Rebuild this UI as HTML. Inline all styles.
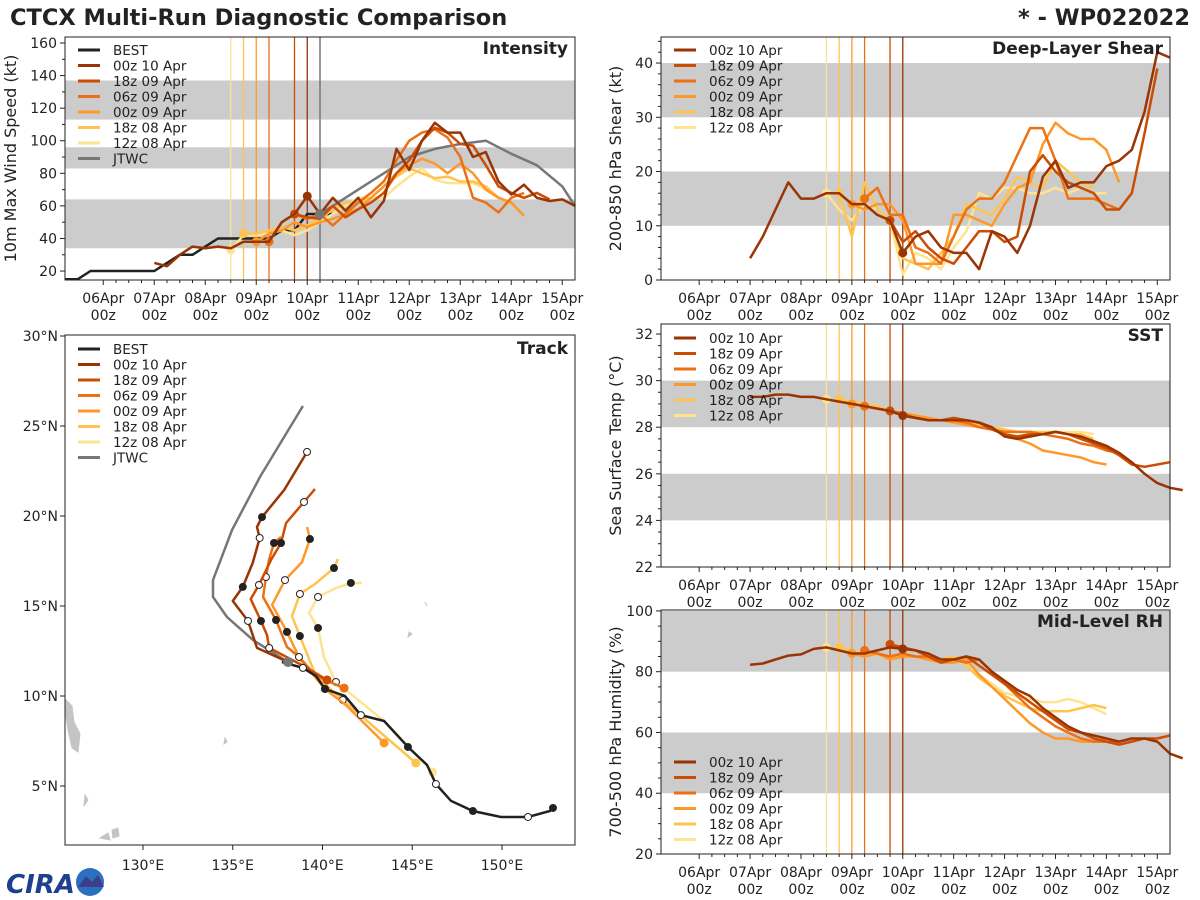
<!DOCTYPE html>
<html><head><meta charset="utf-8"><title>CTCX Multi-Run Diagnostic Comparison</title>
<style>
html,body{margin:0;padding:0;background:#fff;}
svg{display:block;font-family:"DejaVu Sans","Liberation Sans",sans-serif;}
</style></head>
<body>
<svg id="fig" width="1200" height="900" viewBox="0 0 1200 900" xmlns="http://www.w3.org/2000/svg">
<text x="10" y="25" font-size="22.5" font-weight="bold" fill="#222">CTCX Multi-Run Diagnostic Comparison</text>
<text x="1190" y="25" font-size="22.5" font-weight="bold" fill="#222" text-anchor="end">* - WP022022</text>
<g>
<text x="6" y="893" font-size="26" font-weight="bold" fill="#1f3f8f" font-style="italic">CIRA</text>
<circle cx="90" cy="882" r="14" fill="#2a6fc0"/>
<path d="M78 887 L86 876 L92 882 L98 875 L104 887 Z" fill="#3d3d8a"/>
</g>
</svg>
<script>
// ---------------- DATA ----------------
const runNames = ["00z 10 Apr","18z 09 Apr","06z 09 Apr","00z 09 Apr","18z 08 Apr","12z 08 Apr"];
const runColors = ["#993404","#cc4c02","#ec7014","#fe9929","#fec44f","#fee391"];
const runStart = [4.0,3.75,3.25,3.0,2.75,2.5]; // days since 06Apr00z
const dayTickLabels = ["06Apr","07Apr","08Apr","09Apr","10Apr","11Apr","12Apr","13Apr","14Apr","15Apr"];

// Intensity (kt); series start times and values (6-hourly)
const bestIntStart = -0.75;
const bestInt = [15,15,20,20,20,20,20,20,25,30,30,35,40,40,40,40,40,45,45,55,55,55];
const jtwcIntT = [4.25,4.5,5,5.5,6,6.5,7,7.5,8,8.5,9,9.25];
const jtwcInt = [55,60,70,80,90,95,98,100,92,85,72,60];
const intStart = [1.0,3.75,3.25,3.0,2.75,2.5];
const int00z10 = [25,23,30,35,34,35,34,38,38,38,50,55,66,55,65,57,65,53,63,95,82,100,111,105,105,90,93,75,67,73,65,63,64,60];
const int18z09 = [55,53,52,60,53,58,62,68,80,88,100,108,105,98,97,85,72,68,65,68,64];
const int06z09 = [38,50,55,52,55,48,55,62,68,75,88,100,105,107,102,90,65,62,56,65,68];
const int00z09 = [38,43,45,50,47,50,52,55,58,65,72,80,85,89,86,80,86,80,70,65,62,54];
const int18z08 = [43,43,45,47,45,48,52,58,62,62,65,72,78,83,80,77,78,75,75,72,65,62];
const int12z08 = [33,42,42,43,45,42,45,50,55,60,65,65,65,72,78,83,76,74,74,74,70,65,62];
const intSeries = [int00z10,int18z09,int06z09,int00z09,int18z08,int12z08];

// Deep-layer shear (kt)
const shrStart = [1.0,3.75,3.25,3.0,2.75,2.5];
const shr00z10 = [4,8,13,18,15,15,16,16,14,14,12,11,5,8,9,6,5,5,2,9,8,5,10,19,22,17,18,18,21,22,24,31,42,41];
const shr18z09 = [11,7,9,6,4,3,6,9,9,7,8,20,23,20,18,17,16,13,13,16,27,39];
const shr06z09 = [15,17,12,12,6,5,3,8,13,15,15,18,23,28,28,22,15,15,15,14,13];
const shr00z09 = [14,13,14,14,11,3,3,3,12,12,11,10,14,17,18,25,29,27,26,26,24,18];
const shr18z08 = [16,8,18,13,11,4,3,2,5,8,14,13,12,15,19,18,17,22,20,18,17];
const shr12z08 = [16,13,11,14,13,11,1,5,4,2,6,9,16,15,17,17,16,16,17,16,17,16,16];
const shrSeries = [shr00z10,shr18z09,shr06z09,shr00z09,shr18z08,shr12z08];

// SST (deg C)
const sstStart = [1.0,3.75,3.25,3.0,2.75,2.5];
const sst00z10 = [29.3,29.3,29.4,29.4,29.3,29.3,29.2,29.1,29.0,28.9,28.8,28.7,28.5,28.4,28.3,28.3,28.3,28.3,28.2,28.0,27.6,27.5,27.6,27.7,27.8,27.7,27.6,27.4,27.2,26.9,26.5,26.0,25.6,25.4,25.3];
const sst18z09 = [28.7,28.5,28.4,28.3,28.3,28.4,28.3,28.2,27.9,27.7,27.6,27.7,27.7,27.8,27.7,27.5,27.3,27.1,26.8,26.4,26.3,26.4,26.5];
const sst06z09 = [28.9,28.8,28.7,28.6,28.4,28.3,28.3,28.3,28.2,28.0,27.9,27.8,27.8,27.8,27.7,27.6,27.5,27.3,27.2,27.0,26.9];
const sst00z09 = [29.0,28.9,28.8,28.7,28.6,28.5,28.4,28.3,28.2,28.1,28.0,27.9,27.7,27.5,27.3,27.0,26.9,26.8,26.7,26.5,26.4];
const sst18z08 = [29.2,29.1,29.0,28.9,28.7,28.6,28.5,28.4,28.3,28.3,28.2,28.1,28.0,27.9,27.8,27.8,27.8,27.8,27.7,27.7,27.5];
const sst12z08 = [29.2,29.1,29.0,29.0,28.8,28.7,28.6,28.5,28.4,28.3,28.2,28.2,28.1,28.0,27.9,27.8,27.8,27.7,27.8,27.8,27.8,27.7];
const sstSeries = [sst00z10,sst18z09,sst06z09,sst00z09,sst18z08,sst12z08];

// Mid-level RH (%)
const rhStart = [1.0,3.75,3.25,3.0,2.75,2.5];
const rh00z10 = [82.3,82.7,84,85.3,85.7,87.5,88,87,86,86,87,88,87.5,87,86,84,84,85,84,80,77,74,72,68,65,62,60,59,58,57,58,58,57,53,51.5];
const rh18z09 = [89,88,87,85,83,84,85,82,79,76,73,70,67,64,61,60,58,57,56,57,58,58,59];
const rh06z09 = [87,86,85,86,85,85,84,84,83,84,80,76,72,68,65,62,60,58,57,57,57,58];
const rh00z09 = [86,85,86,84,85,85,84,83,83,84,79,75,71,67,63,60,58,58,57,57,58];
const rh18z08 = [88,87,85,86,85,85,85,84,84,85,82,78,75,72,70,68,67,67,67,68,69,68];
const rh12z08 = [88,87,86,85,86,85,86,85,85,84,85,82,79,76,73,72,71,70,70,71,70,68,66];
const rhSeries = [rh00z10,rh18z09,rh06z09,rh00z09,rh18z08,rh12z08];

// Track (lon E, lat N)
const bestLon = [152.84,152.67,151.45,149.94,148.38,147.16,146.32,145.82,144.76,143.43,142.14,141.25,140.14,139.64,138.91,137.74];
const bestLat = [3.78,3.61,3.28,3.28,3.61,4.17,5.11,6.17,7.17,8.61,8.94,10.0,10.39,11.11,11.56,11.89];
const jtwcLon = [138.08,136.13,134.68,133.9,133.9,134.96,136.52,138.91];
const jtwcLat = [11.89,13.11,14.39,15.5,16.44,19.22,22.17,26.11];
const trk00z10Lon = [138.08,136.35,135.85,135.0,135.56,136.11,136.5,136.35,136.63,137.86,139.14];
const trk00z10Lat = [11.89,12.67,14.17,15.28,16.06,17.39,18.78,19.39,19.94,21.44,23.56];
const trk18z09Lon = [140.25,139.14,137.03,136.91,136.57,136.0,136.46,137.13,137.69,137.97,138.97,139.58];
const trk18z09Lat = [10.89,11.56,12.67,13.39,14.17,15.39,16.17,17.56,18.5,19.61,20.78,21.5];
const trk06z09Lon = [141.2,139.64,138.69,138.02,137.41,136.69,136.85,137.02,137.3,137.69];
const trk06z09Lat = [10.44,11.11,12.17,12.72,14.22,15.5,16.61,17.56,18.5,18.83];
const trk00z09Lon = [143.43,141.3,140.14,138.74,138.02,137.19,137.91,138.86,139.3,139.14];
const trk00z09Lat = [7.39,9.5,10.39,12.06,13.56,15.06,16.44,17.44,18.72,19.39];
const trk18z08Lon = [145.2,142.62,141.13,139.64,138.74,138.3,138.74,139.58,140.64,140.86];
const trk18z08Lat = [6.28,8.5,9.78,11.11,13.33,14.44,15.67,16.22,17.11,17.61];
const trk12z08Lon = [146.13,143.43,140.75,140.08,139.75,139.25,139.75,140.75,141.58,142.2];
const trk12z08Lat = [5.78,8.61,10.78,12.17,13.78,14.61,15.5,16.0,16.28,16.28];
const trkLon = [trk00z10Lon,trk18z09Lon,trk06z09Lon,trk00z09Lon,trk18z08Lon,trk12z08Lon];
const trkLat = [trk00z10Lat,trk18z09Lat,trk06z09Lat,trk00z09Lat,trk18z08Lat,trk12z08Lat];
const lonTicks = [130,135,140,145,150];
const latTicks = [5,10,15,20,25,30];

// ---------------- DRAWING ----------------
const NS = "http://www.w3.org/2000/svg";
const fig = document.getElementById("fig");
function mk(tag, attrs, parent){
  const e = document.createElementNS(NS, tag);
  for (const k in attrs) e.setAttribute(k, attrs[k]);
  (parent || fig).appendChild(e);
  return e;
}
function timeAxis(x0,x1){ return t => x0 + (t + 0.75) / 10 * (x1 - x0); }
function valAxis(y0,y1,vmin,vmax){ return v => y1 - (v - vmin) / (vmax - vmin) * (y1 - y0); }
function pts(xs, ys){ return xs.map((x,i)=>x.toFixed(1)+","+ys[i].toFixed(1)).join(" "); }

function timePanel(cfg){
  const g = mk("g", {});
  
  
  const X = timeAxis(cfg.x0, cfg.x1), Y = valAxis(cfg.y0, cfg.y1, cfg.vmin, cfg.vmax);
  cfg.bands.forEach(b => {
    const r = mk("rect", {x:cfg.x0, y:Y(b[1]), width:cfg.x1-cfg.x0, height:Y(b[0])-Y(b[1]), fill:"#cccccc"}, g);
    
    
  });
  runStart.forEach((t,i) => {
    const l = mk("line", {x1:X(t), x2:X(t), y1:cfg.y0, y2:cfg.y1, stroke:runColors[i], "stroke-width":1.3}, g);
    
    
  });
  if (cfg.jtwcLine){
    const l = mk("line", {x1:X(4.25), x2:X(4.25), y1:cfg.y0, y2:cfg.y1, stroke:"#777", "stroke-width":1.5}, g);
    
    
  }
  (cfg.extra || []).forEach(s => {
    const xs = s.t.map(X), ys = s.v.map(Y);
    const p = mk("polyline", {points:pts(xs,ys), fill:"none", stroke:s.color, "stroke-width":2.5, "stroke-linejoin":"round"}, g);
    
    
  });
  for (let i = cfg.series.length - 1; i >= 0; i--){
    const vals = cfg.series[i];
    const xs = vals.map((v,k)=>X(cfg.starts[i] + k*0.25)), ys = vals.map(Y);
    const p = mk("polyline", {points:pts(xs,ys), fill:"none", stroke:runColors[i], "stroke-width":2.5, "stroke-linejoin":"round"}, g);
    
    
    const k0 = Math.round((runStart[i] - cfg.starts[i]) / 0.25);
    if (k0 >= 0 && k0 < vals.length){
      const c = mk("circle", {cx:xs[k0], cy:ys[k0], r:4.5, fill:runColors[i]}, g);
      
      
    }
  }
  if (cfg.jtwcDot){
    const c = mk("circle", {cx:X(4.25), cy:Y(55), r:5, fill:"#777"}, g);
    
    
  }
  const fr = mk("rect", {x:cfg.x0, y:cfg.y0, width:cfg.x1-cfg.x0, height:cfg.y1-cfg.y0, fill:"none", stroke:"#222", "stroke-width":1}, g);
  
  
  dayTickLabels.forEach((lab,d) => {
    const x = X(d);
    mk("line", {x1:x, x2:x, y1:cfg.y1, y2:cfg.y1+5, stroke:"#222"}, g);
    for (let h=1; h<4; h++){ const xm = X(d + h*0.25); if (xm < cfg.x1) mk("line", {x1:xm, x2:xm, y1:cfg.y1, y2:cfg.y1+3, stroke:"#222"}, g); }
    const t1 = mk("text", {x:x, y:cfg.y1+23, "font-size":14, "text-anchor":"middle", fill:"#222"}, g);
    t1.textContent = lab;
    
    
    const t2 = mk("text", {x:x, y:cfg.y1+40, "font-size":14, "text-anchor":"middle", fill:"#222"}, g);
    t2.textContent = "00z";
    
    
  });
  cfg.yticks.forEach(v => {
    const y = Y(v);
    mk("line", {x1:cfg.x0-5, x2:cfg.x0, y1:y, y2:y, stroke:"#222"}, g);
    const t = mk("text", {x:cfg.x0-8, y:y+5, "font-size":14, "text-anchor":"end", fill:"#222"}, g);
    t.textContent = v;
    
    
  });
  (cfg.minor || []).forEach(v => { const y = Y(v); if (y > cfg.y0 && y < cfg.y1) mk("line", {x1:cfg.x0-3, x2:cfg.x0, y1:y, y2:y, stroke:"#222"}, g); });
  const yl = mk("text", {x:0, y:0, "font-size":16, "text-anchor":"middle", fill:"#222", transform:"translate("+cfg.ylx+","+((cfg.y0+cfg.y1)/2)+") rotate(-90)"}, g);
  yl.textContent = cfg.ylabel;
  
  
  const ti = mk("text", {x:cfg.x1-7, y:cfg.y0+17, "font-size":17, "font-weight":"bold", "text-anchor":"end", fill:"#222"}, g);
  ti.textContent = cfg.title;
  
  
  legend(g, cfg.legend, cfg.x0+8, cfg.legY, cfg.legStep);
}

function legend(g, entries, x, y, step){
  entries.forEach((e,i) => {
    const yy = y + i*step;
    const l = mk("line", {x1:x+5, x2:x+27, y1:yy, y2:yy, stroke:e[1], "stroke-width":3}, g);
    
    
    const t = mk("text", {x:x+40, y:yy+5, "font-size":13.5, fill:"#222"}, g);
    t.textContent = e[0];
    
    
  });
}

const runLegend = runNames.map((n,i)=>[n, runColors[i]]);
const fullLegend = [["BEST","#222"]].concat(runLegend).concat([["JTWC","#777"]]);

timePanel({name:"intensity", x0:65, x1:575, y0:37, y1:280, vmin:14.5, vmax:163.7,
  bands:[[34,64],[83,96],[113,137]], yticks:[20,40,60,80,100,120,140,160], minor:[30,50,70,90,110,130,150],
  series:intSeries, starts:intStart, jtwcLine:true, jtwcDot:true,
  extra:[{name:"best-intensity-line", color:"#222", t:bestInt.map((v,k)=>bestIntStart+k*0.25), v:bestInt},
         {name:"jtwc-intensity-line", color:"#777", t:jtwcIntT, v:jtwcInt}],
  ylabel:"10m Max Wind Speed (kt)", ylx:16, title:"Intensity", legend:fullLegend, legY:50, legStep:15.5});

timePanel({name:"shear", x0:661, x1:1170, y0:37, y1:280, vmin:0, vmax:44.8,
  bands:[[10,20],[30,40]], yticks:[0,10,20,30,40], minor:[2,4,6,8,12,14,16,18,22,24,26,28,32,34,36,38,42,44],
  series:shrSeries, starts:shrStart, ylabel:"200-850 hPa Shear (kt)", ylx:621, title:"Deep-Layer Shear",
  legend:runLegend, legY:50, legStep:15.5});

timePanel({name:"sst", x0:661, x1:1170, y0:324, y1:567, vmin:22, vmax:32.43,
  bands:[[24,26],[28,30]], yticks:[22,24,26,28,30,32], minor:[22.5,23,23.5,24.5,25,25.5,26.5,27,27.5,28.5,29,29.5,30.5,31,31.5,32.5],
  series:sstSeries, starts:sstStart, ylabel:"Sea Surface Temp (°C)", ylx:621, title:"SST",
  legend:runLegend, legY:338, legStep:15.5});

timePanel({name:"rh", x0:661, x1:1170, y0:610, y1:854, vmin:20, vmax:100.3,
  bands:[[40,60],[80,100]], yticks:[20,40,60,80,100], minor:[25,30,35,45,50,55,65,70,75,85,90,95],
  series:rhSeries, starts:rhStart, ylabel:"700-500 hPa Humidity (%)", ylx:621, title:"Mid-Level RH",
  legend:runLegend, legY:762, legStep:15.5});

// ---------------- TRACK ----------------
(function(){
  const x0=65, x1=575, y0=335, y1=845;
  const LX = lon => 143 + (lon - 130) * 17.95;
  const LY = lat => 786 - (lat - 5) * 18;
  const g = mk("g", {});
  
  
  const land = mk("path", {d:"M66 700 L72 706 L74 722 L80 734 L78 752 L72 748 L68 730 L66 716 Z M85 795 L88 800 L84 806 Z M100 838 L108 833 L110 840 Z M112 830 L118 828 L119 836 L113 838 Z M225 738 L227 742 L224 744 Z M409 632 L412 634 L408 637 Z M425 602 L427 606 Z", fill:"#c4c4c4", stroke:"#c4c4c4"}, g);
  
  
  const j = mk("polyline", {points:pts(jtwcLon.map(LX), jtwcLat.map(LY)), fill:"none", stroke:"#777", "stroke-width":2.5}, g);
  
  
  for (let i = trkLon.length-1; i >= 0; i--){
    const xs = trkLon[i].map(LX), ys = trkLat[i].map(LY);
    const p = mk("polyline", {points:pts(xs,ys), fill:"none", stroke:runColors[i], "stroke-width":2.5, "stroke-linejoin":"round"}, g);
    
    
    const c0 = mk("circle", {cx:xs[0], cy:ys[0], r:4.5, fill:runColors[i]}, g);
    
    
    for (let k = 2; k < xs.length; k += 2){
      const filled = (k/2) % 2 === 0;
      const c = mk("circle", {cx:xs[k], cy:ys[k], r:3.5, fill:filled ? "#222" : "#fff", stroke:"#222", "stroke-width":1}, g);
      
      
    }
  }
  const bx = bestLon.map(LX), by = bestLat.map(LY);
  const b = mk("polyline", {points:pts(bx,by), fill:"none", stroke:"#222", "stroke-width":2.5}, g);
  
  
  for (let k = 0; k < bx.length; k += 2){
    const c = mk("circle", {cx:bx[k], cy:by[k], r:3.5, fill:(k/2)%2===0 ? "#222" : "#fff", stroke:"#222"}, g);
    
    
  }
  const jd = mk("circle", {cx:LX(jtwcLon[0]), cy:LY(jtwcLat[0]), r:5, fill:"#777"}, g);
  
  
  const fr = mk("rect", {x:x0, y:y0, width:x1-x0, height:y1-y0, fill:"none", stroke:"#222"}, g);
  
  
  lonTicks.forEach(v => {
    const x = LX(v);
    mk("line", {x1:x, x2:x, y1:y1, y2:y1+5, stroke:"#222"}, g);
    const t = mk("text", {x:x, y:y1+25, "font-size":14, "text-anchor":"middle", fill:"#222"}, g);
    t.textContent = v + "°E";
    
    
  });
  latTicks.forEach(v => {
    const y = LY(v);
    mk("line", {x1:x0-5, x2:x0, y1:y, y2:y, stroke:"#222"}, g);
    const t = mk("text", {x:x0-7, y:y+5, "font-size":14, "text-anchor":"end", fill:"#222"}, g);
    t.textContent = v + "°N";
    
    
  });
  const ti = mk("text", {x:x1-7, y:y0+19, "font-size":17, "font-weight":"bold", "text-anchor":"end", fill:"#222"}, g);
  ti.textContent = "Track";
  
  
  legend(g, fullLegend, x0+8, 349, 15.5);
})();
</script>
</body></html>
